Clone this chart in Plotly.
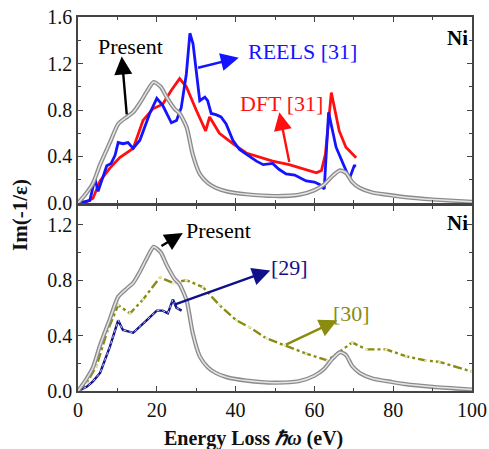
import plotly.graph_objects as go

# ---- data ----
present_e = [0, 2, 3.8, 5.6, 8.1, 10.2, 12.4, 14, 15.7, 17.5, 19.2, 21, 22.5, 24.5, 25.8, 27.6, 29.1,
             30.9, 33, 35, 37.7, 42.7, 50, 56, 60, 62.5, 64.5, 66.5, 68, 69.6, 71.5, 74.7, 79.7, 83, 90, 100]
present_v = [0, 0.08, 0.17, 0.33, 0.52, 0.68, 0.74, 0.78, 0.86, 0.96, 1.04, 1.0, 0.91, 0.81, 0.77, 0.65, 0.42,
             0.25, 0.17, 0.13, 0.10, 0.075, 0.06, 0.07, 0.11, 0.16, 0.23, 0.28, 0.26, 0.18, 0.13, 0.09, 0.065, 0.05, 0.03, 0.01]

reels_e = [0, 3, 4.3, 5.1, 7.3, 8.4, 9.4, 10.2, 11.4, 12.7, 14, 15.7, 18.2, 20, 21.5, 23.7, 25, 26.2, 27.5,
           28.4, 29.2, 30, 30.9, 32.2, 32.9, 33.8, 35, 36.3, 37.6, 39.3, 41, 42.7, 45.3, 47, 49.4, 51, 52.8, 55,
           57.9, 60, 61.3, 62.5, 63.6, 65.5, 68.9, 70.1, 70.6]
reels_v = [0, 0.02, 0.21, 0.10, 0.32, 0.34, 0.41, 0.52, 0.51, 0.52, 0.47, 0.54, 0.77, 0.90, 0.84, 0.69, 0.71,
           0.82, 1.11, 1.46, 1.37, 1.14, 0.88, 0.91, 0.88, 0.77, 0.76, 0.74, 0.68, 0.54, 0.46, 0.42, 0.36, 0.33,
           0.34, 0.29, 0.25, 0.24, 0.19, 0.18, 0.16, 0.12, 0.78, 0.48, 0.21, 0.32, 0.32]

dft_e = [1.5, 3.8, 5.6, 8.1, 10.6, 14, 16.5, 19, 21.5, 23.7, 25.8, 27.5, 30, 32.4, 33.4, 35.9, 39.3, 42.7,
         49.4, 53.6, 60.5, 61.8, 62.8, 64.3, 66.3, 68, 70.6]
dft_v = [0, 0.04, 0.19, 0.30, 0.39, 0.47, 0.71, 0.81, 0.85, 0.97, 1.07, 1.0, 0.80, 0.62, 0.74, 0.60, 0.51, 0.43,
         0.36, 0.33, 0.26, 0.28, 0.42, 0.95, 0.62, 0.48, 0.39]

ref29_e = [0, 2.2, 3.8, 5.6, 8.1, 10.2, 11.4, 14, 17.4, 20, 21.5, 22.8, 24.1, 25, 26.3]
ref29_v = [0, 0.03, 0.07, 0.13, 0.32, 0.51, 0.44, 0.42, 0.51, 0.58, 0.58, 0.56, 0.66, 0.60, 0.58]

ref30_e = [0, 2.2, 4.7, 7.3, 10.2, 13.2, 16.5, 20.8, 24.1, 27.5, 31.7, 35.9, 40.2, 43.5, 47.8, 52.4, 57.9,
           63.3, 66.3, 69.6, 73.2, 78.2, 83.3, 88.3, 91.7, 100]
ref30_v = [0, 0.06, 0.18, 0.42, 0.62, 0.56, 0.66, 0.82, 0.78, 0.80, 0.75, 0.62, 0.51, 0.46, 0.38, 0.33, 0.27,
           0.22, 0.28, 0.35, 0.30, 0.30, 0.25, 0.22, 0.21, 0.14]

SERIF = "Liberation Serif"

fig = go.Figure()

def present(xa, ya):
    fig.add_trace(go.Scatter(x=present_e, y=present_v, xaxis=xa, yaxis=ya, mode="lines",
                             line=dict(color="#8c8c8c", width=4.2, shape="spline", smoothing=0.6),
                             showlegend=False, hoverinfo="skip"))
    fig.add_trace(go.Scatter(x=present_e, y=present_v, xaxis=xa, yaxis=ya, mode="lines",
                             line=dict(color="#e4e4e4", width=1.5, shape="spline", smoothing=0.6),
                             showlegend=False, hoverinfo="skip"))

# top panel
fig.add_trace(go.Scatter(x=dft_e, y=dft_v, xaxis="x", yaxis="y", mode="lines",
                         line=dict(color="#ff1010", width=2.8), showlegend=False))
fig.add_trace(go.Scatter(x=reels_e, y=reels_v, xaxis="x", yaxis="y", mode="lines",
                         line=dict(color="#1414ff", width=2.8), showlegend=False))
present("x", "y")

# bottom panel
fig.add_trace(go.Scatter(x=ref30_e, y=ref30_v, xaxis="x2", yaxis="y2", mode="lines+markers",
                         line=dict(color="#8a8c10", width=2.4, dash="dashdot"),
                         marker=dict(size=3, color="#e8e8c0"), showlegend=False))
fig.add_trace(go.Scatter(x=ref29_e, y=ref29_v, xaxis="x2", yaxis="y2", mode="lines",
                         line=dict(color="#10108a", width=2.4), showlegend=False))
fig.add_trace(go.Scatter(x=ref29_e, y=ref29_v, xaxis="x2", yaxis="y2", mode="lines",
                         line=dict(color="#c8c8e8", width=1, dash="dot"), showlegend=False))
present("x2", "y2")

tickfont = dict(family=SERIF, size=20, color="#111")
common_x = dict(range=[0, 100], tickvals=[0, 20, 40, 60, 80, 100], ticks="inside", ticklen=5,
                showline=True, linecolor="#444", linewidth=1.5, mirror="ticks", showgrid=False,
                zeroline=False, tickcolor="#444", automargin=False,
                minor=dict(tickvals=[10, 30, 50, 70, 90], ticks="inside", ticklen=3, tickcolor="#444"))
common_y = dict(ticks="inside", ticklen=5, showline=True, linecolor="#444", linewidth=1.5,
                mirror="ticks", showgrid=False, zeroline=False, tickcolor="#444", tickformat=".1f",
                tickfont=tickfont, automargin=False)

fig.update_layout(
    width=489, height=449,
    margin=dict(l=78, r=17, t=17, b=58),
    paper_bgcolor="white", plot_bgcolor="white",
    font=dict(family=SERIF),
    xaxis=dict(common_x, anchor="y", showticklabels=False),
    yaxis=dict(common_y, domain=[0.5027, 1], range=[0, 1.6], tickvals=[0, 0.4, 0.8, 1.2, 1.6],
               minor=dict(tickvals=[0.2, 0.6, 1.0, 1.4], ticks="inside", ticklen=3, tickcolor="#444")),
    xaxis2=dict(common_x, anchor="y2", tickfont=tickfont),
    yaxis2=dict(common_y, domain=[0, 0.4947], range=[0, 1.335], tickvals=[0, 0.4, 0.8, 1.2],
                anchor="x2",
                minor=dict(tickvals=[0.2, 0.6, 1.0], ticks="inside", ticklen=3, tickcolor="#444")),
)

def arrow(xr, yr, hx, hy, tx, ty, color):
    fig.add_annotation(xref=xr, yref=yr, axref=xr, ayref=yr, x=hx, y=hy, ax=tx, ay=ty, text="",
                       showarrow=True, arrowhead=2, arrowsize=1.5, arrowwidth=2.4,
                       arrowcolor=color, standoff=0, startstandoff=0)

def label(xr, yr, x, y, text, color, xanchor="center", bold=False, size=22):
    fig.add_annotation(xref=xr, yref=yr, x=x, y=y, text=("<b>%s</b>" % text) if bold else text,
                       showarrow=False, xanchor=xanchor, yanchor="middle",
                       font=dict(family=SERIF, size=size, color=color))

# top annotations
arrow("x", "y", 11.1, 1.26, 12.4, 0.75, "#000000")
label("x", "y", 13.2, 1.35, "Present", "#000000")
arrow("x", "y", 40.8, 1.25, 30.1, 1.16, "#1414ff")
label("x", "y", 57.0, 1.30, "REELS [31]", "#1414ff")
arrow("x", "y", 51.1, 0.78, 53.7, 0.34, "#ff1010")
label("x", "y", 51.6, 0.86, "DFT [31]", "#ff1010")
label("x", "y", 96.3, 1.42, "Ni", "#000000", bold=True, size=21)

# bottom annotations
arrow("x2", "y2", 26.6, 1.14, 20.8, 1.04, "#000000")
label("x2", "y2", 26.9, 1.155, "Present", "#000000", xanchor="left")
arrow("x2", "y2", 48.8, 0.87, 24.1, 0.62, "#10108a")
label("x2", "y2", 53.8, 0.89, "[29]", "#10108a")
arrow("x2", "y2", 65.8, 0.51, 52.4, 0.33, "#8a8c10")
label("x2", "y2", 69.4, 0.56, "[30]", "#8a8c10")
label("x2", "y2", 96.3, 1.215, "Ni", "#000000", bold=True, size=21)

# axis titles
fig.add_annotation(xref="paper", yref="paper", x=(253 - 78) / 394, y=(391 - 438) / 374,
                   text="<b>Energy Loss <i>ℏω</i> (eV)</b>", showarrow=False,
                   xanchor="center", yanchor="middle",
                   font=dict(family=SERIF, size=20, color="#111"))
fig.add_annotation(xref="paper", yref="paper", x=(20 - 78) / 394, y=(391 - 215) / 374,
                   text="<b>Im(-1/ε)</b>", showarrow=False, textangle=-90,
                   xanchor="center", yanchor="middle",
                   font=dict(family=SERIF, size=21, color="#111"))

fig.write_html("out.html", config={"displayModeBar": False},
               post_script="document.body.style.margin='0';")
